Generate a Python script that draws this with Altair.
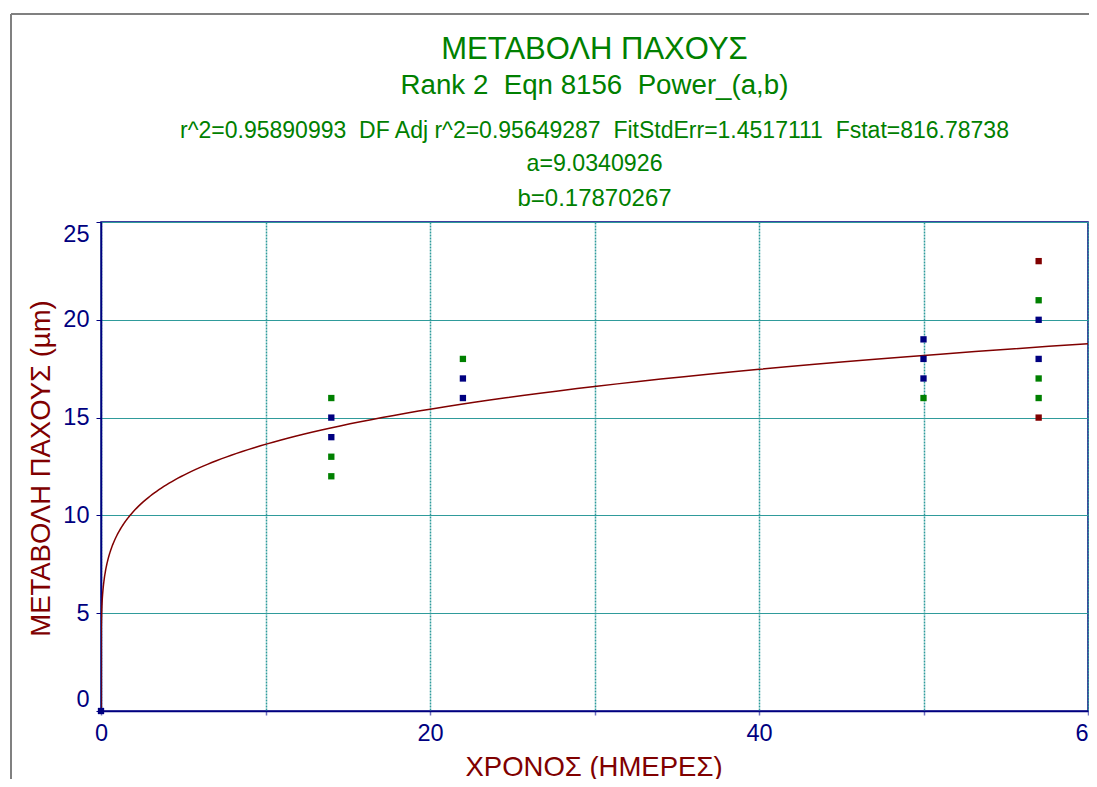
import altair as alt
import numpy as np
import pandas as pd

# ---- data ----
day = [0, 14, 14, 14, 14, 14, 22, 22, 22, 50, 50, 50, 50, 57, 57, 57, 57, 57, 57, 57]
thickness = [0, 16, 15, 14, 13, 12, 18, 17, 16, 19, 18, 17, 16, 23, 21, 20, 18, 17, 16, 15]
group = ["navy", "green", "navy", "navy", "green", "green",
         "green", "navy", "navy",
         "navy", "navy", "navy", "green",
         "red", "green", "navy", "navy", "green", "green", "red"]

# fitted model y = a * x^b (parameters printed on the chart)
a_par = 9.0340926
b_par = 0.17870267
curve_x = np.concatenate([[0.0], np.logspace(-7, np.log10(60), 500)])
curve_y = a_par * np.power(curve_x, b_par)

x_ticks = [0, 10, 20, 30, 40, 50, 60]
y_ticks = [0, 5, 10, 15, 20, 25]

NB = "\u00a0"  # keeps the double spaces of the original header visible
title_lines = [
    "ΜΕΤΑΒΟΛΗ ΠΑΧΟΥΣ",
    f"Rank 2 {NB}Eqn 8156 {NB}Power_(a,b)",
    f"r^2=0.95890993 {NB}DF Adj r^2=0.95649287 {NB}FitStdErr=1.4517111 {NB}Fstat=816.78738",
    "a=9.0340926",
    "b=0.17870267",
]
x_title = "ΧΡΟΝΟΣ (ΗΜΕΡΕΣ)"
y_title = "ΜΕΤΑΒΟΛΗ ΠΑΧΟΥΣ (µm)"

pts = pd.DataFrame({"day": day, "thick": thickness, "grp": group})
curve = pd.DataFrame({"day": curve_x, "thick": curve_y})

FONT = "Liberation Sans, Arial, sans-serif"
NAVY = "#000080"
DRED = "#800000"
GREEN = "#008000"
TEAL = "#2f9b9b"

W, H = 987, 489

xscale = alt.Scale(domain=[0, 60], nice=False, zero=False)
yscale = alt.Scale(domain=[0, 25], nice=False, zero=False)

x_axis = alt.Axis(
    values=x_ticks, labelExpr="datum.value % 20 == 0 ? datum.label : ''",
    labelFlush=False, labelOverlap=False,
    title=x_title, titleColor=DRED, titleFont=FONT, titleFontSize=27.5, titleFontWeight="normal",
    titleX=492.5, titleY=64, titleBaseline="alphabetic", titleAnchor="middle",
    labelFont=FONT, labelFontSize=23.5, labelColor=NAVY, labelPadding=6,
    domainColor=NAVY, domainWidth=1.5, tickColor="#7070c0", tickSize=4, tickWidth=1.5,
    grid=True, gridColor=TEAL, gridWidth=1.5, gridDash=[2, 1], gridOpacity=1,
)
y_axis = alt.Axis(
    values=y_ticks, labelFlush=True, labelOverlap=False,
    title=y_title, titleColor=DRED, titleFont=FONT, titleFontSize=27.5, titleFontWeight="normal",
    titleX=-52, titleY=246, titleBaseline="alphabetic", titleAngle=270,
    labelFont=FONT, labelFontSize=23.5, labelColor=NAVY, labelPadding=7,
    domainColor=NAVY, domainWidth=1.5, tickColor=NAVY, tickSize=5, tickWidth=1,
    grid=True, gridColor=TEAL, gridWidth=1.2, gridOpacity=1,
)

curve_layer = alt.Chart(curve).mark_line(color=DRED, strokeWidth=1.5, clip=True).encode(
    x=alt.X("day:Q", scale=xscale, axis=x_axis),
    y=alt.Y("thick:Q", scale=yscale, axis=y_axis),
    order="day:Q",
)

pts_layer = alt.Chart(pts).mark_square(size=40, opacity=1).encode(
    x=alt.X("day:Q", scale=xscale),
    y=alt.Y("thick:Q", scale=yscale),
    color=alt.Color("grp:N", scale=alt.Scale(domain=["navy", "green", "red"], range=[NAVY, GREEN, DRED]),
                    legend=None),
)

# header text lines (centred above the plot)
line_specs = [(31, -163.5), (27.7, -128), (23, -84), (23.2, -51), (24, -16)]
text_layers = []
for txt, (fs, yy) in zip(title_lines, line_specs):
    text_layers.append(
        alt.Chart(alt.Data(values=[{"t": txt}])).mark_text(
            font=FONT, fontSize=fs, color=GREEN, align="center", baseline="alphabetic"
        ).encode(text="t:N", x=alt.value(W / 2), y=alt.value(yy))
    )

# outer grey frame of the figure
frame_v = alt.Chart(alt.Data(values=[{"k": 1}])).mark_rule(color="#808080", strokeWidth=2).encode(
    x=alt.value(-90), y=alt.value(-208), y2=alt.value(H + 80))
frame_h = alt.Chart(alt.Data(values=[{"k": 1}])).mark_rule(color="#808080", strokeWidth=2).encode(
    x=alt.value(-90), x2=alt.value(W + 20), y=alt.value(-208))

chart = alt.layer(frame_v, frame_h, curve_layer, pts_layer, *text_layers).properties(
    width=W, height=H,
    autosize=alt.AutoSizeParams(type="none"),
    padding={"left": 93, "top": 214, "right": 1, "bottom": 68},
    background="white",
).configure_view(stroke=NAVY, strokeWidth=1.5)

chart.save("out.html", embed_options={"renderer": "svg", "actions": False})
